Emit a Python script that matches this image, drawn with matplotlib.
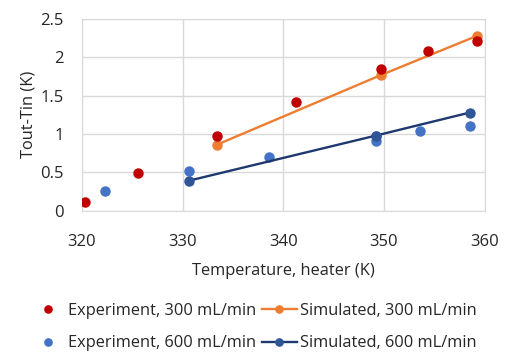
import matplotlib
matplotlib.use("Agg")
import matplotlib.pyplot as plt

plt.rcParams['font.family'] = ['Open Sans', 'DejaVu Sans']

# experiment, 300 mL/min
exp300_x = [320.3, 325.6, 333.4, 341.3, 349.7, 354.4, 359.2]
exp300_y = [0.11, 0.49, 0.97, 1.42, 1.85, 2.09, 2.21]

# experiment, 600 mL/min
exp600_x = [322.3, 330.6, 338.6, 349.2, 349.2, 353.6, 358.5]
exp600_y = [0.26, 0.52, 0.70, 0.97, 0.91, 1.04, 1.10]

# simulated
sim300_x = [333.4, 349.7, 359.2]
sim300_y = [0.86, 1.77, 2.28]
sim600_x = [330.6, 349.2, 358.5]
sim600_y = [0.39, 0.98, 1.28]

xticks = [320, 330, 340, 350, 360]
yticks = [0, 0.5, 1, 1.5, 2, 2.5]
ytick_labels = ['0', '0.5', '1', '1.5', '2', '2.5']

fig = plt.figure(figsize=(5.05, 3.54), dpi=100, facecolor='white')
ax = fig.add_axes([0.162, 0.405, 0.798, 0.541])

ax.plot(sim300_x, sim300_y, color='#ED7D31', linewidth=1.7, marker='o', markersize=6.5,
        label='Simulated, 300 mL/min', zorder=3)
ax.plot(sim600_x, sim600_y, color='#1F3870', linewidth=1.7, marker='o', markersize=6.5,
        markerfacecolor='#2F5597', markeredgecolor='#2F5597',
        label='Simulated, 600 mL/min', zorder=3)
ax.plot(exp300_x, exp300_y, linestyle='none', marker='o', markersize=6.5,
        color='#C00000', label='Experiment, 300 mL/min', zorder=4)
ax.plot(exp600_x, exp600_y, linestyle='none', marker='o', markersize=6.5,
        color='#4472C4', label='Experiment, 600 mL/min', zorder=2)

ax.set_xlim(320, 360)
ax.set_ylim(0, 2.5)
ax.set_xticks(xticks)
ax.set_yticks(yticks)
ax.set_yticklabels(ytick_labels)
ax.grid(True, color='#D9D9D9', linewidth=1)
ax.set_axisbelow(True)
for s in ax.spines.values():
    s.set_color('#D9D9D9')
ax.tick_params(axis='both', length=0, labelsize=12, colors='#262626')
ax.tick_params(axis='x', pad=17)
ax.tick_params(axis='y', pad=13)

ax.set_xlabel('Temperature, heater (K)', fontsize=11.8, color='#262626', labelpad=9)
ax.set_ylabel('Tout-Tin (K)', fontsize=11.8, color='#262626', labelpad=3)

h, l = ax.get_legend_handles_labels()
order = [2, 3, 0, 1]
fig.legend([h[i] for i in order], [l[i] for i in order], ncol=2,
           loc='lower center', bbox_to_anchor=(0.502, -0.034), frameon=False,
           fontsize=11.8, handlelength=2.1, columnspacing=0.35, handletextpad=0.2,
           labelspacing=1.0, markerscale=0.8, labelcolor='#262626')

fig.savefig('out.png', dpi=100, facecolor='white')
